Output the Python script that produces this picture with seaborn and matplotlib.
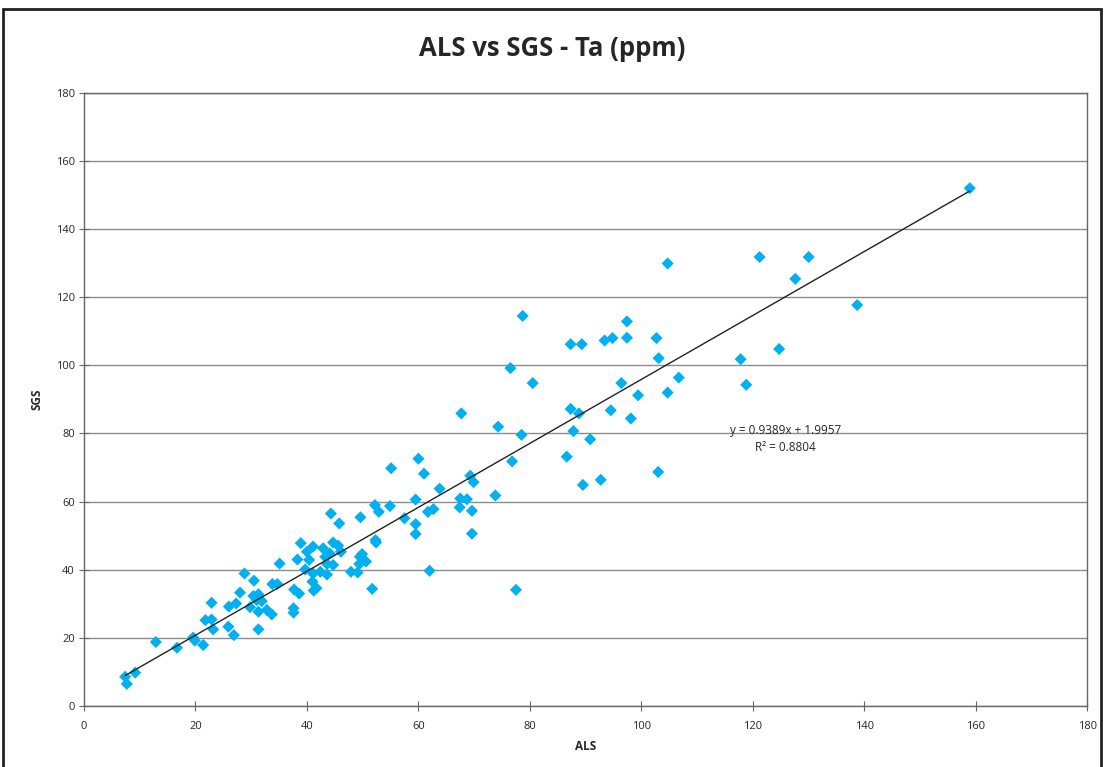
import numpy as np
import pandas as pd
import seaborn as sns
import matplotlib.pyplot as plt
from matplotlib.patches import Rectangle

# valores (ALS x SGS, Ta ppm)
als = [7.4, 7.7, 9.2, 12.9, 16.7, 19.6, 19.9, 21.4, 21.8, 22.9,
       23.2, 22.9, 25.9, 26.9, 26.0, 27.3, 28.0, 28.8, 30.5, 29.8,
       30.4, 31.3, 31.0, 31.9, 31.3, 32.8, 33.7, 31.3, 33.8, 34.7,
       35.1, 37.6, 37.6, 37.7, 38.6, 38.3, 38.9, 40.0, 41.1, 42.9,
       44.7, 45.6, 46.1, 44.1, 43.3, 40.4, 44.7, 43.6, 41.1, 42.4,
       39.7, 43.6, 47.9, 49.1, 41.0, 41.2, 41.7, 44.3, 45.8, 49.6,
       49.9, 49.5, 50.6, 49.4, 51.7, 52.3, 52.4, 52.2, 54.9, 52.9,
       55.1, 57.5, 59.5, 59.5, 59.5, 60.0, 61.0, 61.7, 62.7, 62.0,
       63.8, 67.7, 67.5, 68.7, 67.4, 69.3, 69.9, 69.6, 69.6, 73.8,
       74.3, 76.5, 76.8, 77.5, 78.5, 78.7, 80.5, 86.6, 87.3, 87.3,
       87.8, 88.8, 89.3, 89.5, 90.8, 92.7, 93.4, 94.8, 94.5, 96.4,
       97.4, 97.4, 98.1, 99.4, 102.7, 103.1, 103.0, 104.7, 104.7, 106.7,
       117.8, 118.8, 121.2, 124.7, 127.6, 130.0, 138.7, 158.9]
sgs = [8.6, 6.5, 9.8, 18.8, 17.1, 20.1, 19.2, 17.9, 25.2, 25.4,
       22.5, 30.3, 23.3, 20.8, 29.2, 30.1, 33.3, 38.9, 36.8, 29.0,
       32.3, 32.8, 31.1, 30.8, 27.7, 28.2, 26.9, 22.5, 35.8, 35.8,
       41.8, 28.7, 27.4, 34.2, 33.0, 43.0, 47.8, 45.3, 46.8, 46.3,
       48.0, 47.1, 45.3, 44.8, 43.8, 42.9, 41.4, 41.7, 38.9, 39.4,
       40.1, 38.6, 39.4, 39.2, 36.5, 33.9, 34.6, 56.5, 53.6, 55.4,
       44.6, 43.8, 42.4, 41.7, 34.4, 48.7, 48.0, 59.0, 58.7, 57.0,
       69.8, 55.1, 53.4, 50.5, 60.6, 72.6, 68.2, 57.0, 57.8, 39.7,
       63.8, 85.9, 60.9, 60.7, 58.3, 67.6, 65.7, 57.3, 50.6, 61.8,
       82.0, 99.2, 71.8, 34.1, 79.6, 114.5, 94.8, 73.2, 106.2, 87.2,
       80.7, 85.9, 106.2, 64.9, 78.3, 66.4, 107.3, 108.0, 86.8, 94.8,
       112.9, 108.1, 84.4, 91.2, 108.0, 102.1, 68.7, 129.9, 92.0, 96.4,
       101.8, 94.3, 131.8, 104.8, 125.4, 131.8, 117.7, 152.0]

# linha de tendência do Excel
slope = 0.9389
intercept = 1.9957
r2 = 0.8804

df = pd.DataFrame({'ALS': als, 'SGS': sgs})

sns.set_style('white')
plt.rcParams['font.family'] = ['Open Sans', 'DejaVu Sans']

fig = plt.figure(figsize=(11.04, 7.67), dpi=100)
ax = fig.add_axes([0.076, 0.0795, 0.909, 0.7995])

ax.grid(axis='y', color='#8c8c8c', linewidth=1)
ax.set_axisbelow(True)

sns.scatterplot(data=df, x='ALS', y='SGS', ax=ax, marker='D', s=38,
                color='#00B0F0', edgecolor='none', zorder=3)

# linha de regressão
x_line = np.array([df['ALS'].min(), df['ALS'].max()])
trend = pd.DataFrame({'x': x_line, 'y': slope * x_line + intercept})
sns.lineplot(data=trend, x='x', y='y', ax=ax, color='#222222', linewidth=1, zorder=4)

ax.text(125.8, 81.0, f'y = {slope}x + {intercept}', ha='center', va='center', fontsize=8.5)
ax.text(125.8, 76.0, f'R² = {r2}', ha='center', va='center', fontsize=8.5)

ax.set_xlim(0, 180)
ax.set_ylim(0, 180)
ax.set_xticks(range(0, 181, 20))
ax.set_yticks(range(0, 181, 20))
ax.tick_params(axis='both', labelsize=8, length=7, direction='inout',
               bottom=True, left=True, color='#666666')
ax.tick_params(axis='x', pad=7)
ax.tick_params(axis='y', pad=3)
for sp in ax.spines.values():
    sp.set_color('#666666')
    sp.set_linewidth(1)

ax.set_xlabel('ALS', fontsize=8.5, fontweight='bold', labelpad=6)
ax.set_ylabel('SGS', fontsize=8.5, fontweight='bold', labelpad=9)
fig.text(0.5, 0.937, 'ALS vs SGS - Ta (ppm)', ha='center', va='center',
         fontsize=18.5, fontweight='bold')

# borda do gráfico
fig.patches.append(Rectangle((0.003, -0.01), 0.994, 0.998, transform=fig.transFigure,
                             fill=False, edgecolor='#222222', linewidth=2))

fig.savefig('out.png', dpi=100)
